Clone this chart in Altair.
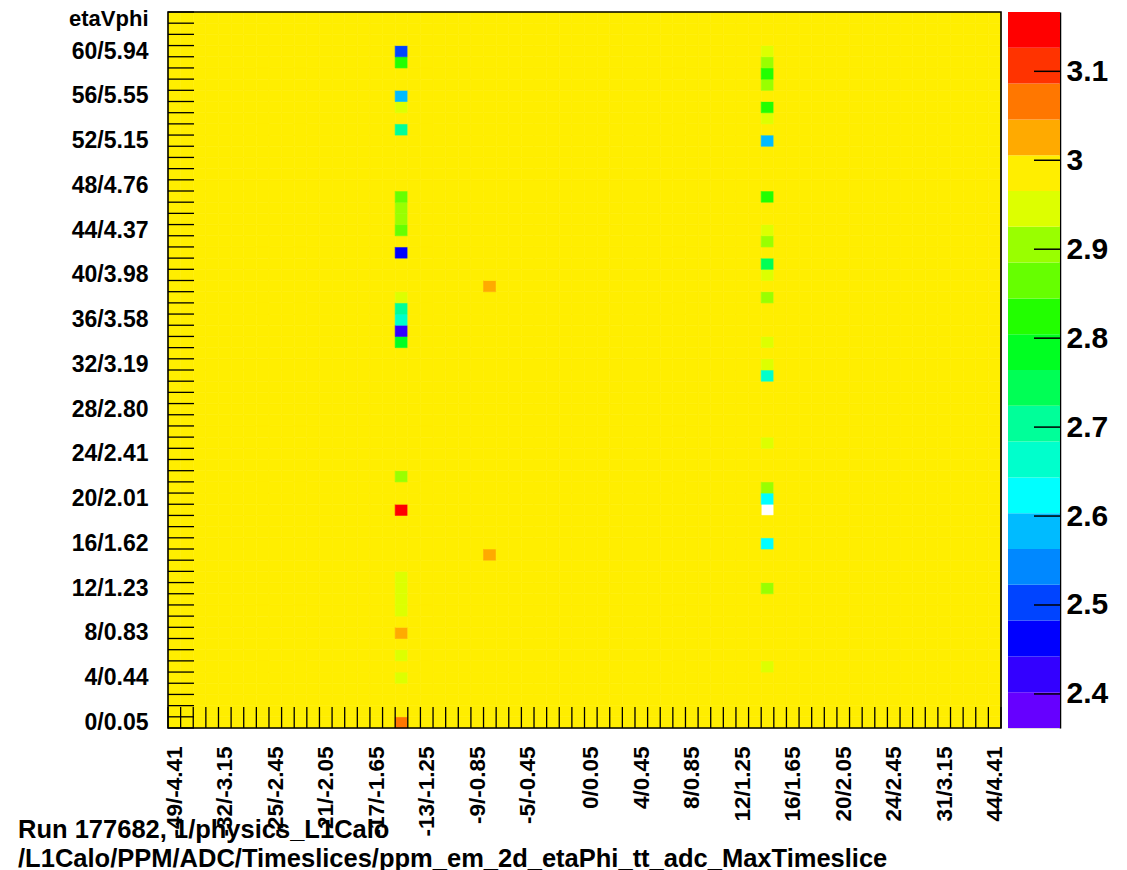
import altair as alt
import pandas as pd

FONT = "Liberation Sans"

# ---------------- data ----------------
n_eta = 66
n_phi = 64
base_value = 3.0

x_label_bins = [0, 4, 8, 12, 16, 20, 24, 28, 33, 37, 41, 45, 49, 53, 57, 61, 65]
x_labels = ["-49/-4.41", "-32/-3.15", "-25/-2.45", "-21/-2.05", "-17/-1.65",
            "-13/-1.25", "-9/-0.85", "-5/-0.45", "0/0.05", "4/0.45", "8/0.85",
            "12/1.25", "16/1.65", "20/2.05", "24/2.45", "31/3.15", "44/4.41"]
y_label_bins = [0, 4, 8, 12, 16, 20, 24, 28, 32, 36, 40, 44, 48, 52, 56, 60]
y_labels = ["0/0.05", "4/0.44", "8/0.83", "12/1.23", "16/1.62", "20/2.01",
            "24/2.41", "28/2.80", "32/3.19", "36/3.58", "40/3.98", "44/4.37",
            "48/4.76", "52/5.15", "56/5.55", "60/5.94"]

# cells that differ from the base value (eta bin, phi bin, value)
cell_eta = [18, 18, 18, 18, 18, 18, 18, 18, 18, 18, 18, 18, 18, 18, 18,
            18, 18, 18, 18, 18, 18, 18, 18, 18, 18,
            25, 25,
            47, 47, 47, 47, 47, 47, 47, 47, 47, 47, 47, 47, 47, 47, 47,
            47, 47, 47, 47, 47, 47, 47]
cell_phi = [60, 59, 56, 55, 53, 47, 46, 45, 44, 42, 38, 37, 36, 35, 34,
            22, 19, 13, 12, 11, 10, 8, 6, 4, 0,
            39, 15,
            60, 59, 58, 57, 55, 54, 52, 47, 44, 43, 41, 40, 38, 34, 32,
            31, 25, 21, 20, 16, 12, 5]
cell_value = [2.50, 2.82, 2.58, 2.95, 2.70, 2.86, 2.90, 2.91, 2.87, 2.46, 2.95, 2.70, 2.67, 2.42, 2.78,
              2.90, 3.16, 2.95, 2.96, 2.95, 2.94, 3.03, 2.95, 2.96, 3.07,
              3.03, 3.03,
              2.96, 2.91, 2.83, 2.90, 2.82, 2.95, 2.58, 2.82, 2.96, 2.90, 2.75, 2.96, 2.91, 2.95, 2.96,
              2.67, 2.95, 2.90, 2.63, 2.62, 2.91, 2.95]
# empty bins (not drawn)
empty_eta = [47]
empty_phi = [19]

z_min = 2.3617
z_max = 3.1667
palette = ["#6600ff", "#3300ff", "#0000ff", "#0044ff", "#0088ff", "#00bbff",
           "#00ffff", "#00ffcc", "#00ff99", "#00ff55", "#00ff22", "#22ff00",
           "#66ff00", "#99ff00", "#ddff00", "#ffee00", "#ffaa00", "#ff7700",
           "#ff3300", "#ff0000"]
cbar_ticks = [2.4, 2.5, 2.6, 2.7, 2.8, 2.9, 3.0, 3.1]

title_lines = ["Run 177682, 1/physics_L1Calo",
               "/L1Calo/PPM/ADC/Timeslices/ppm_em_2d_etaPhi_tt_adc_MaxTimeslice"]

# ---------------- tables ----------------
override = {(e, p): v for e, p, v in zip(cell_eta, cell_phi, cell_value)}
empty = set(zip(empty_eta, empty_phi))
rows = []
for e in range(n_eta):
    for p in range(n_phi):
        if (e, p) in empty:
            continue
        rows.append({"eta": e, "eta2": e + 1, "phi": p, "phi2": p + 1,
                     "value": override.get((e, p), base_value)})
df = pd.DataFrame(rows)

x_lab_arr = [""] * n_eta
for b, l in zip(x_label_bins, x_labels):
    x_lab_arr[b] = l
y_lab_arr = [""] * n_phi
for b, l in zip(y_label_bins, y_labels):
    y_lab_arr[b] = l
x_expr = "[" + ",".join("'" + s + "'" for s in x_lab_arr) + "][floor(datum.value)]"
y_expr = "[" + ",".join("'" + s + "'" for s in y_lab_arr) + "][floor(datum.value)]"

W, H = 833, 716
CB_W = 52

xs = alt.Scale(domain=[0, n_eta], nice=False, zero=False)
ys = alt.Scale(domain=[0, n_phi], nice=False, zero=False)
color_scale = alt.Scale(type="quantize", domain=[z_min, z_max], range=palette, nice=False, zero=False)

x_axis = alt.Axis(values=[b + 0.5 for b in x_label_bins], labelExpr=x_expr,
                  labelAngle=270, labelAlign="right", labelBaseline="middle",
                  labelPadding=18, labelFontSize=22.5, labelFont=FONT,
                  labelFontWeight="bold", labelColor="black", labelFlush=False,
                  labelOverlap=False, ticks=False, tickSize=0, domain=False,
                  grid=False, title=None)
y_axis = alt.Axis(values=[b + 0.5 for b in y_label_bins], labelExpr=y_expr,
                  labelAlign="right", labelBaseline="middle",
                  labelPadding=20, labelFontSize=23, labelFont=FONT,
                  labelFontWeight="bold", labelColor="black", labelFlush=False,
                  labelOverlap=False, ticks=False, tickSize=0, domain=False,
                  grid=False, title="etaVphi", titleAngle=0, titleAlign="right",
                  titleBaseline="middle", titleX=-20, titleY=6, titleFontSize=22,
                  titleFont=FONT, titleFontWeight="bold", titleColor="black")

cells = alt.Chart(df).mark_rect(strokeWidth=0.6).encode(
    x=alt.X("eta:Q", scale=xs, axis=x_axis),
    x2="eta2:Q",
    y=alt.Y("phi:Q", scale=ys, axis=y_axis),
    y2="phi2:Q",
    color=alt.Color("value:Q", scale=color_scale, legend=None),
    stroke=alt.Stroke("value:Q", scale=color_scale, legend=None),
)

y_edges = pd.DataFrame({"edge": list(range(n_phi + 1))})
x_edges = pd.DataFrame({"edge": list(range(n_eta + 1))})
yticks = alt.Chart(y_edges).mark_rule(color="black", strokeWidth=1.3).encode(
    y=alt.Y("edge:Q", scale=ys, axis=y_axis), x=alt.value(0), x2=alt.value(26))
xticks = alt.Chart(x_edges).mark_rule(color="black", strokeWidth=1.3).encode(
    x=alt.X("edge:Q", scale=xs, axis=x_axis), y=alt.value(H - 21), y2=alt.value(H))
frame_df = pd.DataFrame({"x0": [0], "x1": [n_eta], "y0": [0], "y1": [n_phi]})
frame = alt.Chart(frame_df).mark_rect(filled=False, stroke="black", strokeWidth=1.6).encode(
    x=alt.X("x0:Q", scale=xs, axis=x_axis), x2="x1:Q",
    y=alt.Y("y0:Q", scale=ys, axis=y_axis), y2="y1:Q")

main = alt.layer(cells, yticks, xticks, frame).properties(width=W, height=H)

# ---------------- colour bar ----------------
step = (z_max - z_min) / len(palette)
cb_df = pd.DataFrame({
    "lo": [z_min + k * step for k in range(len(palette))],
    "hi": [z_min + (k + 1) * step for k in range(len(palette))],
    "mid": [z_min + (k + 0.5) * step for k in range(len(palette))],
})
cb_scale = alt.Scale(domain=[z_min, z_max], nice=False, zero=False)
cb_axis = alt.Axis(orient="right", values=cbar_ticks, format="~g",
                   labelFontSize=30, labelFont=FONT, labelFontWeight="bold",
                   labelColor="black", labelPadding=6, labelFlush=False,
                   labelOverlap=False, ticks=False, tickSize=0, domain=True,
                   domainColor="black", domainWidth=1.5, grid=False, title=None)
bands = alt.Chart(cb_df).mark_rect().encode(
    y=alt.Y("lo:Q", scale=cb_scale, axis=cb_axis),
    y2="hi:Q",
    x=alt.value(0), x2=alt.value(CB_W),
    color=alt.Color("mid:Q", scale=color_scale, legend=None),
)
cticks = alt.Chart(pd.DataFrame({"t": cbar_ticks})).mark_rule(color="black", strokeWidth=1.5).encode(
    y=alt.Y("t:Q", scale=cb_scale, axis=cb_axis), x=alt.value(CB_W - 26), x2=alt.value(CB_W))
colorbar = alt.layer(bands, cticks).properties(width=CB_W, height=H)

chart = alt.hconcat(main, colorbar, spacing=0).properties(
    title=alt.TitleParams(text=title_lines, orient="bottom", anchor="start",
                          dx=-50, offset=-19, fontSize=25.5, font=FONT,
                          fontWeight="bold", lineHeight=29, color="black"),
    padding={"left": 18, "top": 6, "right": 5, "bottom": 4},
).configure_view(stroke="transparent").configure(background="white")

chart.save("out.html", embed_options={"renderer": "svg", "actions": False})
